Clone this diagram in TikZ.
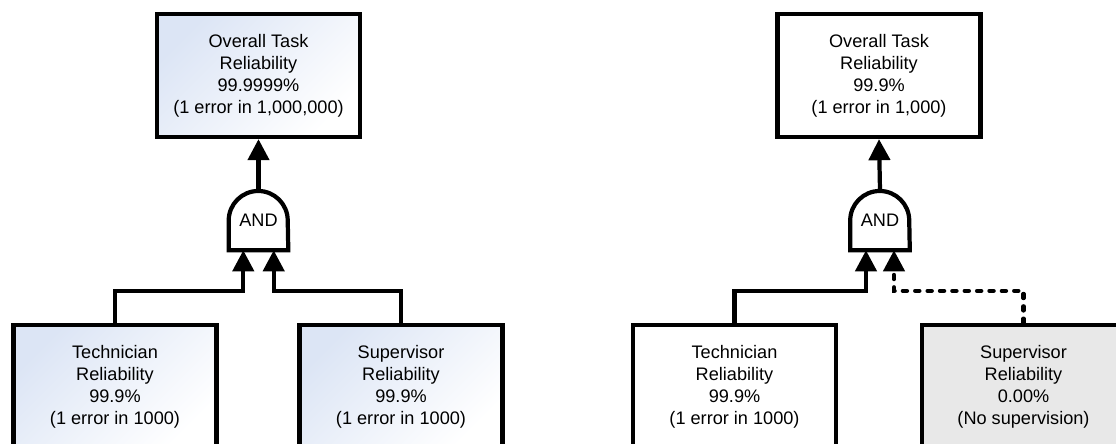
\documentclass[tikz,border=0pt]{standalone}
\usepackage{fontspec}
\setmainfont{Liberation Sans}
\usetikzlibrary{arrows.meta}
\definecolor{paleblue}{RGB}{220,229,245}
\definecolor{offgrey}{RGB}{232,232,232}
\tikzstyle{block}=[draw, line width=3pt, minimum width=5.075cm, minimum height=3.075cm, inner sep=0pt, align=center, font=\fontsize{12.9pt}{15.6pt}\selectfont]
\tikzstyle{sblock}=[block, top color=paleblue, bottom color=white, shading angle=45]
\tikzstyle{wblock}=[block, fill=white]
\tikzstyle{gblock}=[block, fill=offgrey]
\tikzstyle{gate}=[inner sep=0pt, minimum size=1.475cm, font=\fontsize{12.9pt}{15.6pt}\selectfont]
\tikzstyle{link}=[line width=3pt, -{Triangle[width=15pt,length=15pt]}]
\tikzstyle{nolink}=[link, dash pattern=on 3pt off 5.8pt, line cap=round]

\begin{document}
\begin{tikzpicture}[x=0.025cm, y=0.025cm]
        \useasboundingbox (0,0) rectangle (1116,444);
        \clip (0,0) rectangle (1116,444);
        % with supervision
        \node[sblock] (ltop) at (258.5, 368.5) {Overall Task\\Reliability\\99.9999\%\\(1 error in 1,000,000)};
        \node[gate]   (lgate) at (258.5, 223.5) {AND};
        \node[sblock] (ltech) at (115, 57.5) {Technician\\Reliability\\99.9\%\\(1 error in 1000)};
        \node[sblock] (lsup) at (401, 57.5) {Supervisor\\Reliability\\99.9\%\\(1 error in 1000)};
        \draw[line width=3pt] (lgate.south west) -- (lgate.west) arc[start angle=180, end angle=0, radius=0.7375cm] -- (lgate.south east) -- cycle;
        \coordinate (lin1) at ([xshift=-0.38cm]lgate.south);
        \coordinate (lin2) at ([xshift=0.38cm]lgate.south);
        \draw[link] (lgate.north) -- (ltop.south);
        \draw[link] (ltech.north) -- ++(0,32) -| (lin1);
        \draw[link] (lsup.north) -- ++(0,32) -| (lin2);

        % no supervision
        \node[wblock] (rtop) at (879, 368.5) {Overall Task\\Reliability\\99.9\%\\(1 error in 1,000)};
        \node[gate]   (rgate) at (880, 223.5) {AND};
        \node[wblock] (rtech) at (734.5, 57.5) {Technician\\Reliability\\99.9\%\\(1 error in 1000)};
        \node[gblock] (rsup) at (1023.5, 57.5) {Supervisor\\Reliability\\0.00\%\\(No supervision)};
        \draw[line width=3pt] (rgate.south west) -- (rgate.west) arc[start angle=180, end angle=0, radius=0.7375cm] -- (rgate.south east) -- cycle;
        \coordinate (rin1) at ([xshift=-0.35cm]rgate.south);
        \coordinate (rin2) at ([xshift=0.35cm]rgate.south);
        \draw[link] (rgate.north) -- (rtop.south);
        \draw[link] (rtech.north) -- ++(0,32) -| (rin1);
        \draw[nolink] (rsup.north) -- ++(0,32) -| (rin2);
    \end{tikzpicture}
\end{document}
